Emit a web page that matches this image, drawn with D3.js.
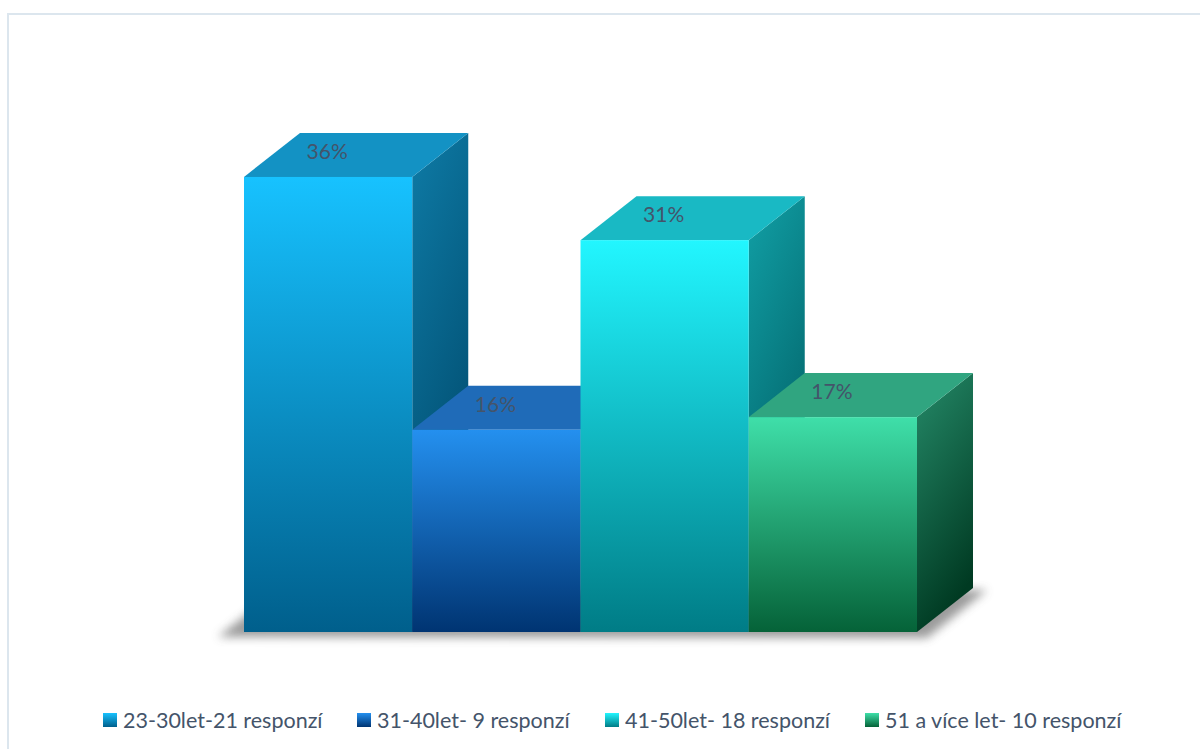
<!DOCTYPE html>
<html><head><meta charset="utf-8">
<script src="https://cdn.jsdelivr.net/npm/d3@7"></script>
<style>html,body{margin:0;padding:0;background:#fff;}svg{display:block;}</style>
</head><body>
<script>
const categories = ["23-30let-21 responzí", "31-40let- 9 responzí", "41-50let- 18 responzí", "51 a více let- 10 responzí"];
const values = [36, 16, 31, 17];
const labels = ["36%", "16%", "31%", "17%"];
const frontTop = ["#17c2ff", "#2490ef", "#22f6ff", "#3fdfa9"];
const frontBot = ["#005f8c", "#003472", "#007c86", "#056238"];
const topCol = ["#1392c4", "#1f6bb8", "#19b9c4", "#30a580"];
const sideTop = ["#0e7ba6", "#0b4f8a", "#11a0a6", "#258a69"];
const sideBot = ["#004a6c", "#002a58", "#005a60", "#003a22"];

const W = 1200, H = 749;
const svg = d3.select("body").append("svg").attr("width", W).attr("height", H);
const defs = svg.append("defs");

svg.append("rect").attr("x", 8).attr("y", 14).attr("width", 1200).attr("height", 800)
  .attr("fill", "none").attr("stroke", "#dce6ee").attr("stroke-width", 2);

const x = d3.scaleBand().domain(categories).range([244, 917]).padding(0);
const y = d3.scaleLinear().domain([0, 40]).range([632, 126.4]);
const dx = 56, dy = -44;

categories.forEach((c, i) => {
  const g = defs.append("linearGradient").attr("id", "f" + i).attr("x1", 0).attr("y1", 0).attr("x2", 0).attr("y2", 1);
  g.append("stop").attr("offset", 0).attr("stop-color", frontTop[i]);
  g.append("stop").attr("offset", 1).attr("stop-color", frontBot[i]);
  const s = defs.append("linearGradient").attr("id", "s" + i).attr("x1", 0).attr("y1", 0).attr("x2", 0.3).attr("y2", 1);
  s.append("stop").attr("offset", 0).attr("stop-color", sideTop[i]);
  s.append("stop").attr("offset", 1).attr("stop-color", sideBot[i]);
});
const blur = defs.append("filter").attr("id", "blur").attr("x", "-20%").attr("y", "-50%").attr("width", "140%").attr("height", "200%");
blur.append("feGaussianBlur").attr("stdDeviation", 5);

const x0 = x.range()[0], x1 = x.range()[1], y0 = y(0);
svg.append("path")
  .attr("d", `M${x0 - 26},${y0 + 5} L${x0 + dx - 26},${y0 + dy + 5} L${x1 + dx + 14},${y0 + dy + 2} L${x1 + 10},${y0 + 6} Z`)
  .attr("fill", "#8a8a8a").attr("opacity", 0.85).attr("filter", "url(#blur)");

const bars = svg.append("g").selectAll("g").data(values).join("g");
bars.each(function (v, i) {
  const g = d3.select(this);
  const L = x(categories[i]), R = L + x.bandwidth(), T = y(v), B = y(0);
  g.append("path").attr("d", `M${R},${T} L${R + dx},${T + dy} L${R + dx},${B + dy} L${R},${B} Z`).attr("fill", `url(#s${i})`);
  g.append("path").attr("d", `M${L},${T} L${L + dx},${T + dy} L${R + dx},${T + dy} L${R},${T} Z`).attr("fill", topCol[i]);
  g.append("rect").attr("x", L).attr("y", T).attr("width", x.bandwidth()).attr("height", B - T).attr("fill", `url(#f${i})`);
});
svg.append("g").selectAll("text").data(values).join("text")
  .attr("x", (v, i) => x(categories[i]) + x.bandwidth() / 2 - 1)
  .attr("y", v => y(v) - 18)
  .attr("text-anchor", "middle")
  .attr("font-family", "Lato, 'Open Sans', sans-serif")
  .attr("font-size", 21)
  .attr("fill", "#44546a")
  .text((v, i) => labels[i]);

const legX = [103, 357, 605, 865];
const leg = svg.append("g").selectAll("g").data(categories).join("g")
  .attr("transform", (d, i) => `translate(${legX[i]},720)`);
leg.append("rect").attr("x", 0).attr("y", -7).attr("width", 14).attr("height", 14)
  .attr("fill", (d, i) => `url(#f${i})`);
leg.append("text").attr("x", 20).attr("y", 7.5)
  .attr("font-family", "Lato, 'Open Sans', sans-serif")
  .attr("font-size", 21.5).attr("fill", "#44546a").text(d => d);
</script>
</body></html>
